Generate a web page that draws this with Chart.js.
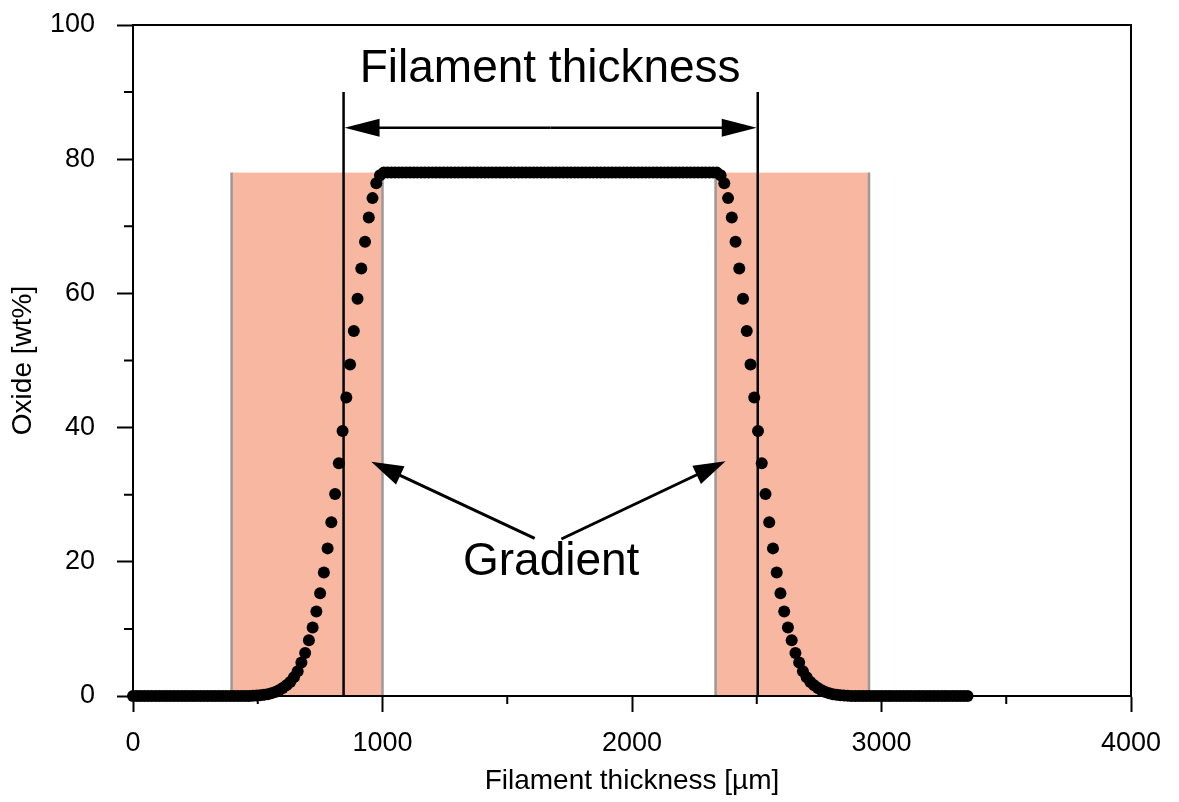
<!DOCTYPE html>
<html>
<head>
<meta charset="utf-8">
<script src="https://cdn.jsdelivr.net/npm/chart.js@4"></script>
<style>
  html, body { margin: 0; padding: 0; background: #fff; }
  #box { width: 1179px; height: 802px; }
</style>
</head>
<body>
<div id="box"><canvas id="c" width="1179" height="802"></canvas></div>
<script>
/* Profil d'oxyde à travers le filament — nuage de points + annotations */
(function () {
  "use strict";

  // épaisseur [µm]
  var EPAISSEUR = [
    0, 15, 30, 45, 60, 75, 90, 105, 120, 135, 150, 165, 180, 195, 210, 225,
    240, 255, 270, 285, 300, 315, 330, 345, 360, 375, 390, 405, 420, 435, 450, 465,
    480, 495, 510, 525, 540, 555, 570, 585, 600, 615, 630, 645, 660, 675, 690, 705,
    720, 735, 750, 765, 780, 795, 810, 825, 840, 855, 870, 885, 900, 915, 930, 945,
    960, 975, 990, 1005, 1020, 1035, 1050, 1065, 1080, 1095, 1110, 1125, 1140, 1155, 1170, 1185,
    1200, 1215, 1230, 1245, 1260, 1275, 1290, 1305, 1320, 1335, 1350, 1365, 1380, 1395, 1410, 1425,
    1440, 1455, 1470, 1485, 1500, 1515, 1530, 1545, 1560, 1575, 1590, 1605, 1620, 1635, 1650, 1665,
    1680, 1695, 1710, 1725, 1740, 1755, 1770, 1785, 1800, 1815, 1830, 1845, 1860, 1875, 1890, 1905,
    1920, 1935, 1950, 1965, 1980, 1995, 2010, 2025, 2040, 2055, 2070, 2085, 2100, 2115, 2130, 2145,
    2160, 2175, 2190, 2205, 2220, 2235, 2250, 2265, 2280, 2295, 2310, 2325, 2340, 2355, 2370, 2385,
    2400, 2415, 2430, 2445, 2460, 2475, 2490, 2505, 2520, 2535, 2550, 2565, 2580, 2595, 2610, 2625,
    2640, 2655, 2670, 2685, 2700, 2715, 2730, 2745, 2760, 2775, 2790, 2805, 2820, 2835, 2850, 2865,
    2880, 2895, 2910, 2925, 2940, 2955, 2970, 2985, 3000, 3015, 3030, 3045, 3060, 3075, 3090, 3105,
    3120, 3135, 3150, 3165, 3180, 3195, 3210, 3225, 3240, 3255, 3270, 3285, 3300, 3315, 3330, 3345
  ];
  // oxyde [wt%]
  var OXYDE = [
    0, 0, 0, 0, 0, 0, 0, 0, 0, 0, 0, 0, 0, 0, 0, 0,
    0, 0, 0, 0, 0, 0, 0, 0, 0, 0, 0, 0, 0, 0, 0, 0.01,
    0.03, 0.06, 0.1, 0.17, 0.27, 0.4, 0.6, 0.85, 1.2, 1.6, 2.1, 2.8, 3.7, 5.0, 6.4, 8.3,
    10.2, 12.6, 15.3, 18.4, 22.0, 25.9, 30.1, 34.7, 39.5, 44.5, 49.4, 54.4, 59.2, 63.7, 67.7, 71.3,
    74.2, 76.4, 77.6, 78, 78, 78, 78, 78, 78, 78, 78, 78, 78, 78, 78, 78,
    78, 78, 78, 78, 78, 78, 78, 78, 78, 78, 78, 78, 78, 78, 78, 78,
    78, 78, 78, 78, 78, 78, 78, 78, 78, 78, 78, 78, 78, 78, 78, 78,
    78, 78, 78, 78, 78, 78, 78, 78, 78, 78, 78, 78, 78, 78, 78, 78,
    78, 78, 78, 78, 78, 78, 78, 78, 78, 78, 78, 78, 78, 78, 78, 78,
    78, 78, 78, 78, 78, 78, 78, 78, 78, 78, 78, 78, 78, 77.6, 76.4, 74.2,
    71.3, 67.7, 63.7, 59.2, 54.4, 49.4, 44.5, 39.5, 34.7, 30.1, 25.9, 22.0, 18.4, 15.3, 12.6, 10.2,
    8.3, 6.4, 5.0, 3.7, 2.8, 2.1, 1.6, 1.2, 0.85, 0.6, 0.4, 0.27, 0.17, 0.1, 0.06, 0.03,
    0.01, 0, 0, 0, 0, 0, 0, 0, 0, 0, 0, 0, 0, 0, 0, 0,
    0, 0, 0, 0, 0, 0, 0, 0, 0, 0, 0, 0, 0, 0, 0, 0
  ];
  var TICKS_X = [0, 1000, 2000, 3000, 4000];
  var TICKS_Y = [0, 20, 40, 60, 80, 100];

  // zones de gradient [µm] et limites de l'épaisseur
  var BANDES = [[395, 1000], [2335, 2950]];
  var BANDE_HAUT = 78;
  var LIMITES = [844, 2504];

  var POLICE = '"Liberation Sans", Arial, Helvetica, sans-serif';
  var NOIR = "#000", SAUMON = "#f8b7a0", GRIS = "#9a9a9a";
  Chart.defaults.font.family = POLICE;
  Chart.defaults.color = NOIR;

  function fleche(c, x0, y0, x1, y1, L, W) {
    var a = Math.atan2(y1 - y0, x1 - x0), ca = Math.cos(a), sa = Math.sin(a);
    c.beginPath(); c.moveTo(x0, y0); c.lineTo(x1 - L * 0.7 * ca, y1 - L * 0.7 * sa); c.stroke();
    c.beginPath(); c.moveTo(x1, y1);
    c.lineTo(x1 - L * ca + W * sa, y1 - L * sa - W * ca);
    c.lineTo(x1 - L * ca - W * sa, y1 - L * sa + W * ca);
    c.closePath(); c.fill();
  }

  var deco = {
    id: "deco",
    beforeDatasetsDraw: function (ch) {
      var c = ch.ctx, x = ch.scales.x, y = ch.scales.y;
      var yt = y.getPixelForValue(BANDE_HAUT), yb = y.getPixelForValue(0) - 1;
      c.save();
      BANDES.forEach(function (b) {
        var x0 = x.getPixelForValue(b[0]), x1 = x.getPixelForValue(b[1]);
        c.fillStyle = SAUMON; c.fillRect(x0, yt, x1 - x0, yb - yt);
        c.strokeStyle = GRIS; c.lineWidth = 2.5;
        c.beginPath(); c.moveTo(x0, yt); c.lineTo(x0, yb); c.moveTo(x1, yt); c.lineTo(x1, yb); c.stroke();
      });
      c.restore();
    },
    afterDraw: function (ch) {
      var c = ch.ctx, x = ch.scales.x, y = ch.scales.y, a = ch.chartArea;
      c.save();
      c.strokeStyle = NOIR; c.fillStyle = NOIR; c.lineWidth = 2;
      // cadre haut + droite
      c.beginPath(); c.moveTo(a.left, a.top); c.lineTo(a.right, a.top); c.lineTo(a.right, a.bottom); c.stroke();
      // graduations mineures
      c.beginPath();
      [500, 1500, 2500, 3500].forEach(function (v) {
        var px = x.getPixelForValue(v); c.moveTo(px, a.bottom); c.lineTo(px, a.bottom + 8);
      });
      [10, 30, 50, 70, 90].forEach(function (v) {
        var py = y.getPixelForValue(v); c.moveTo(a.left - 9, py); c.lineTo(a.left, py);
      });
      c.stroke();
      // épaisseur du filament
      c.lineWidth = 2.5;
      var xl = x.getPixelForValue(LIMITES[0]), xr = x.getPixelForValue(LIMITES[1]);
      var yh = y.getPixelForValue(90), ya = y.getPixelForValue(84.7), y0 = y.getPixelForValue(0);
      c.beginPath(); c.moveTo(xl, yh); c.lineTo(xl, y0); c.moveTo(xr, yh); c.lineTo(xr, y0); c.stroke();
      var xm = (xl + xr) / 2;
      fleche(c, xm, ya, xl + 1, ya, 35, 9);
      fleche(c, xm, ya, xr - 1, ya, 35, 9);
      // flèches "Gradient"
      c.lineWidth = 3;
      fleche(c, x.getPixelForValue(1610), y.getPixelForValue(23.5), x.getPixelForValue(955), y.getPixelForValue(34.9), 32, 10);
      fleche(c, x.getPixelForValue(1717), y.getPixelForValue(23.4), x.getPixelForValue(2375), y.getPixelForValue(35.0), 32, 10);
      // textes
      c.font = "46px " + POLICE; c.textAlign = "center"; c.textBaseline = "alphabetic";
      c.fillText("Filament thickness", x.getPixelForValue(1672), y.getPixelForValue(91.5));
      c.fillText("Gradient", x.getPixelForValue(1676), y.getPixelForValue(18.0));
      c.restore();
    }
  };

  var points = EPAISSEUR.map(function (v, i) { return { x: v, y: OXYDE[i] }; });

  new Chart(document.getElementById("c"), {
    type: "scatter",
    data: { datasets: [{ data: points, pointRadius: 6, pointBackgroundColor: NOIR, pointBorderWidth: 0, showLine: false, clip: false }] },
    options: {
      responsive: false, animation: false, devicePixelRatio: 1, events: [],
      layout: { padding: { left: 0, top: 25, right: 48, bottom: 0 } },
      plugins: { legend: { display: false }, tooltip: { enabled: false } },
      scales: {
        x: {
          type: "linear", min: 0, max: 4000,
          afterFit: function (s) { s.height = 106; s.paddingLeft = 0; s.paddingRight = 0; },
          afterBuildTicks: function (s) { s.ticks = TICKS_X.map(function (v) { return { value: v }; }); },
          ticks: { font: { size: 27 }, color: NOIR, padding: 15, maxRotation: 0, callback: function (v) { return String(v); } },
          grid: { drawOnChartArea: false, drawTicks: true, tickLength: 16, tickWidth: 2, tickColor: NOIR },
          border: { display: true, color: NOIR, width: 2 },
          title: { display: true, text: "Filament thickness [µm]", font: { size: 28 }, color: NOIR, padding: { top: 0, bottom: 4 } }
        },
        y: {
          type: "linear", min: 0, max: 100,
          afterFit: function (s) { s.width = 133; s.paddingTop = 0; s.paddingBottom = 0; },
          afterBuildTicks: function (s) { s.ticks = TICKS_Y.map(function (v) { return { value: v }; }); },
          ticks: { font: { size: 27 }, color: NOIR, padding: 22, callback: function (v) { return String(v); } },
          grid: { drawOnChartArea: false, drawTicks: true, tickLength: 16, tickWidth: 2, tickColor: NOIR },
          border: { display: true, color: NOIR, width: 2 },
          title: { display: true, text: "Oxide [wt%]", font: { size: 28 }, color: NOIR, padding: { top: 6, bottom: 0 } }
        }
      }
    },
    plugins: [deco]
  });
})();
</script>
</body>
</html>
